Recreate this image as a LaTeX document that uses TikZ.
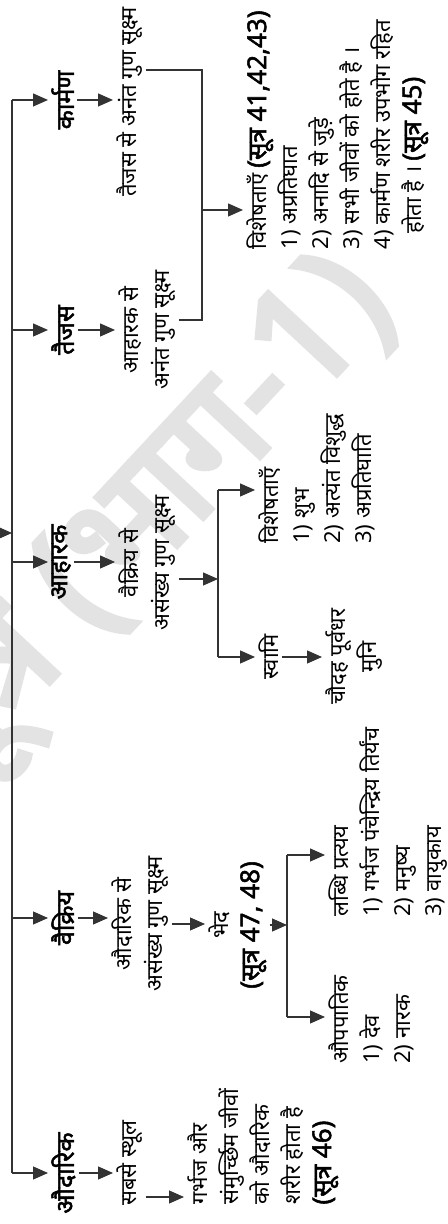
\documentclass[tikz,border=0pt]{standalone}
\usepackage{fontspec}
\setmainfont{Noto Sans}[Script=Devanagari, BoldFont={Noto Sans}, BoldFeatures={FakeBold=2}]
\usetikzlibrary{arrows.meta}
\newcommand\sutrab{\fontsize{13}{15.5}\selectfont\bfseries}
\begin{document}
\begin{tikzpicture}[x=0.5pt,y=0.5pt,
  ln/.style={draw=black!80, line width=0.6pt},
  arr/.style={ln, -{Triangle[length=7.5pt,width=6.5pt]}},
  head/.style={rotate=90, anchor=north, font=\fontsize{12.5}{14}\selectfont\bfseries, inner sep=1.5pt},
  txt/.style={rotate=90, anchor=north, font=\fontsize{11}{15.5}\selectfont, align=center, inner sep=1.5pt},
  lst/.style={rotate=90, anchor=north west, font=\fontsize{11}{15.5}\selectfont, align=left, inner sep=1.5pt},
]
\useasboundingbox (0,0) rectangle (448,1224);
\fill[white] (0,0) rectangle (448,1224);
% watermark
\begin{scope}
\clip (0,0) rectangle (448,1224);
\node[text=black!11, font=\fontsize{74}{74}\selectfont\addfontfeatures{FakeBold=4}, rotate=47, anchor=base east, inner sep=0] (wm) at (398,915) {सूत्र (भाग-1)};
\end{scope}
% main bus
\coordinate (busL) at (12,51);
\coordinate (busR) at (12,1124);
\coordinate (root) at (-2,691);
\draw[ln] (busL) -- (busR);
\draw[arr] (root) -- (root -| busL);
% level 1
\node[head] (k1) at (48,1124) {कार्मण};
\node[head] (t1) at (48,894) {तैजस};
\node[head] (a1) at (48,662) {आहारक};
\node[head] (v1) at (48,306) {वैक्रिय};
\node[head] (o1) at (48,51) {औदारिक};
\foreach \n in {k1,t1,a1,v1,o1} \draw[arr] (\n.north -| busL) -- (\n.north);
% level 2
\node[txt] (k2) at (113,1122) {तैजस से अनंत गुण सूक्ष्म};
\node[txt] (t2) at (115,894) {आहारक से\\अनंत गुण सूक्ष्म};
\node[txt] (a2) at (115,661) {वैक्रिय से\\असंख्य गुण सूक्ष्म};
\node[txt] (v2) at (108,300) {औदारिक से\\असंख्य गुण सूक्ष्म};
\node[txt] (o2) at (113,61) {सबसे स्थूल};
\draw[arr] (k1.south) -- (k1.south -| k2.north);
\draw[arr] (t1.south) -- (t1.south -| t2.north);
\draw[arr] (a1.south) -- (a1.south -| a2.north);
\draw[arr] (v1.south) -- (v1.south -| v2.north);
\draw[arr] (o1.south) -- (o1.south -| o2.north);
% karman + taijas features
\coordinate (kj) at (202,1014);
\node[lst] (kf) at (243,971) {विशेषताएँ {\sutrab (सूत्र 41,42,43)}\\
1) अप्रतिघात\\
2) अनादि से जुड़े\\
3) सभी जीवों को होते है ।\\
4) कार्मण शरीर उपभोग रहित\\
\hspace*{8pt}होता है । {\sutrab (सूत्र 45)}};
\draw[ln] ([yshift=16]k2.south) -| (kj) |- ([yshift=5]t2.south);
\draw[arr] (kj) -- (kj -| kf.north);
% aharak
\coordinate (b2t) at (218,734);
\coordinate (b2b) at (218,567);
\draw[ln] (b2t) -- (b2b);
\draw[arr] ([yshift=-8]a2.south) -- ([yshift=-8]a2.south -| b2t);
\node[lst] (af) at (255,677) {विशेषताएँ\\1) शुभ\\2) अत्यंत विशुद्ध\\3) अप्रतिघाति};
\node[txt] (s1) at (255,567) {स्वामि};
\node[txt] (s2) at (322,567) {चौदह पूर्वधर\\मुनि};
\draw[arr] (b2t) -- (b2t -| af.north);
\draw[arr] (b2b) -- (b2b -| s1.north);
\draw[arr] (s1.south) -- (s1.south -| s2.north);
% vaikriyik
\node[txt] (v3) at (205,299) {भेद\\{\sutrab (सूत्र 47, 48)}};
\draw[arr] (v2.south) -- (v2.south -| v3.north);
\coordinate (b3t) at (287,369);
\coordinate (b3b) at (287,207);
\draw[ln] (b3t) -- (b3b);
\draw[arr] (v3.south) -- (v3.south -| b3t);
\node[lst] (lf) at (325,304) {लब्धि प्रत्यय\\1) गर्भज पंचेन्द्रिय तिर्यंच\\2) मनुष्य\\3) वायुकाय};
\node[lst] (op) at (325,157) {औपपातिक\\1) देव\\2) नारक};
\draw[arr] (b3t) -- (b3t -| lf.north);
\draw[arr] (b3b) -- (b3b -| op.north);
% audarik
\node[lst] (of) at (184,16) {गर्भज और\\संमुर्च्छिम जीवों\\को औदारिक\\शरीर होता है\\{\sutrab (सूत्र 46)}};
\draw[arr] ([yshift=-17]o2.south) -- ([yshift=-17]o2.south -| of.north);
\end{tikzpicture}
\end{document}
